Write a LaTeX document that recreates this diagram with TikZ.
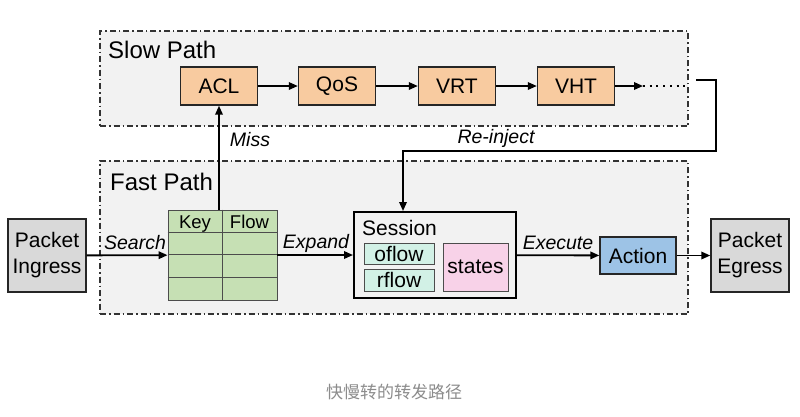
\documentclass[tikz,border=0pt]{standalone}
\usepackage{fontspec}
\setmainfont{Liberation Sans}
\newfontfamily\cjkfont{Noto Sans CJK SC}
\usetikzlibrary{arrows.meta,calc,positioning}
\definecolor{regionfill}{RGB}{242,242,242}
\definecolor{stagefill}{RGB}{248,203,160}
\definecolor{tablefill}{RGB}{198,224,180}
\definecolor{flowfill}{RGB}{210,241,230}
\definecolor{statefill}{RGB}{248,210,232}
\definecolor{actionfill}{RGB}{157,195,230}
\definecolor{packetfill}{RGB}{217,217,217}
\definecolor{captiongray}{RGB}{140,140,140}

\begin{document}
\begin{tikzpicture}[
  x=1pt, y=-1pt,
  region/.style={
    draw=black!80,
    line width=1.2pt,
    fill=regionfill,
    dash pattern=on 6pt off 3pt on 1.5pt off 3pt,
    minimum width=588pt,
    inner sep=0pt
  },
  regionlabel/.style={
    anchor=west,
    inner sep=0pt,
    font=\fontsize{24}{28}\selectfont
  },
  block/.style={
    draw=black!85,
    line width=1.4pt,
    inner sep=0pt,
    align=center,
    text=black,
    font=\fontsize{21}{26}\selectfont
  },
  stage/.style={block,fill=stagefill,minimum width=77pt,minimum height=38pt},
  packet/.style={block,fill=packetfill,minimum width=78pt,minimum height=73pt},
  subbox/.style={block,draw=black!70,line width=1pt},
  cellline/.style={draw=black!70,line width=0.9pt},
  header/.style={anchor=base,inner sep=0pt,font=\fontsize{18.5}{22}\selectfont},
  flow/.style={
    draw=black,
    line width=1.8pt,
    -{Triangle[length=9pt,width=7.5pt]}
  },
  edgelabel/.style={
    inner sep=0pt,
    font=\fontsize{19.5}{23}\selectfont\itshape
  }
]
\useasboundingbox[fill=white] (0,0) rectangle (800,416);

% Regions
\node[region,minimum height=95pt] (slow) at (394,78.5) {};
\node[regionlabel] (slowlbl) at (108,50) {Slow Path};
\node[region,minimum height=153pt] (fast) at (394,237.5) {};
\node[regionlabel] (fastlbl) at (110,182) {Fast Path};

% Slow path stages
\node[stage] (acl) at (219,86) {ACL};
\node[stage] (qos) at (337,86) {QoS};
\node[stage] (vrt) at (457,86) {VRT};
\node[stage] (vht) at (576,86) {VHT};
\coordinate (dots) at (643,86);
\coordinate (reinj) at (696,80);

% Packets
\node[packet] (ingress) at (47,255.5) {Packet\\Ingress};
\node[packet] (egress) at (750,255.5) {Packet\\Egress};

% Flow table
\node[block,draw=black!70,line width=0.9pt,fill=tablefill,
  minimum width=109pt,minimum height=90pt] (table) at (222.5,255) {};
\foreach \r in {1,2,3}
  \draw[cellline] ([yshift=-22.5*\r]table.north west) --
    ([yshift=-22.5*\r]table.north east);
\draw[cellline] (table.north) -- (table.south);
\node[header] (key) at (195,228.5) {Key};
\node[header] (flowcol) at (249.5,228.5) {Flow};

% Session
\node[block,draw=black,line width=2pt,minimum width=162pt,
  minimum height=86pt] (session) at (435,255) {};
\node[inner sep=0pt,anchor=west,font=\fontsize{21}{26}\selectfont]
  (sessionlbl) at (362,227.5) {Session};
\node[subbox,fill=flowfill,minimum width=70pt,minimum height=21pt]
  (oflow) at (399,253.5) {oflow};
\node[subbox,fill=flowfill,minimum width=70pt,minimum height=22pt]
  (rflow) at (399,280) {rflow};
\node[subbox,fill=statefill,minimum width=65pt,minimum height=48pt]
  (states) at (475.5,267) {states};

% Action
\node[block,fill=actionfill,minimum width=76pt,minimum height=37pt]
  (action) at (638,255.5) {Action};

% Connectors
\draw[flow] (acl) -- (qos);
\draw[flow] (qos) -- (vrt);
\draw[flow] (vrt) -- (vht);
\draw[flow] (vht) -- (dots);
\draw[line width=2pt,dash pattern=on 2pt off 4.7pt] (dots) -- ++(42,0);

\draw[flow] (table.north -| acl.south) -- (acl.south);
\node[edgelabel] (misslbl) at (250,140) {Miss};

\draw[flow] (reinj) -- ++(20,0) |- ([xshift=-32pt,yshift=60pt]session.north)
  -- ([xshift=-32pt]session.north);
\node[edgelabel] (reinjlbl) at (496,138) {Re-inject};

\draw[flow] (ingress) -- (table);
\node[edgelabel] (searchlbl) at (135,243) {Search};
\draw[flow] (table) -- (session);
\node[edgelabel] (expandlbl) at (316,243) {Expand};
\draw[flow] (session) -- (action);
\node[edgelabel] (executelbl) at (558,243) {Execute};
\draw[flow] (action) -- (egress);

% Caption
\node[font=\cjkfont\fontsize{17}{20}\selectfont,text=captiongray]
  (caption) at (394,392) {快慢转的转发路径};

\end{tikzpicture}
\end{document}
